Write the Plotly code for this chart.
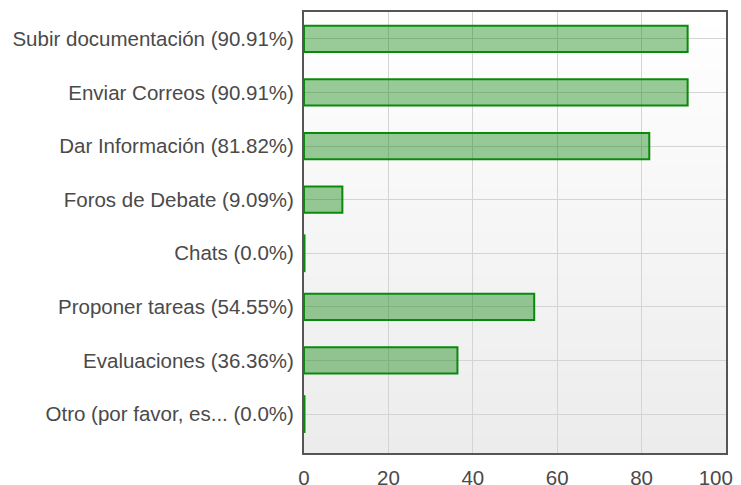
import plotly.graph_objects as go

categories = [
    "Subir documentación",
    "Enviar Correos",
    "Dar Información",
    "Foros de Debate",
    "Chats",
    "Proponer tareas",
    "Evaluaciones",
    "Otro (por favor, es...",
]
values = [90.91, 90.91, 81.82, 9.09, 0.0, 54.55, 36.36, 0.0]
value_labels = ["90.91", "90.91", "81.82", "9.09", "0.0", "54.55", "36.36", "0.0"]
tick_labels = [f"{c} ({v}%)" for c, v in zip(categories, value_labels)]
x_ticks = [0, 20, 40, 60, 80, 100]
x_tick_text = ["0", "20", "40", "60", "80", "100\u2003"]

font_family = "Liberation Sans, Arial, sans-serif"
font_size = 20.5
text_color = "#4a4a4a"
bar_line = "#0a8a0a"

fig = go.Figure()
fig.add_trace(go.Bar(
    y=tick_labels,
    x=values,
    orientation="h",
    marker=dict(color="rgba(0,128,0,0.4)", line=dict(color=bar_line, width=2)),
    hoverinfo="x+y",
))

# zero-valued bars are shown as a thin outline at the axis
zero_y = [lab for lab, v in zip(tick_labels, values) if v == 0]
zero_x = [v for v in values if v == 0]
fig.add_trace(go.Scatter(
    x=zero_x, y=zero_y, mode="markers",
    marker=dict(symbol="line-ns-open", size=27, color=bar_line,
                line=dict(color=bar_line, width=3)),
    cliponaxis=False, hoverinfo="skip",
))

# vertical gradient background (white -> light gray)
n = 60
shapes = []
for i in range(n):
    t = i / (n - 1)
    g = round(255 - t * (255 - 236))
    shapes.append(dict(
        type="rect", xref="x domain", yref="y domain",
        x0=0, x1=1, y0=1 - (i + 1) / n, y1=1 - i / n + 0.002,
        fillcolor=f"rgb({g},{g},{g})", line=dict(width=0), layer="below",
    ))

fig.update_layout(
    width=741, height=477,
    margin=dict(l=296, r=23, t=4, b=32),
    paper_bgcolor="white",
    plot_bgcolor="white",
    bargap=0.51,
    showlegend=False,
    shapes=shapes,
    font=dict(family=font_family, size=font_size, color=text_color),
    xaxis=dict(
        range=[0, 100],
        tickvals=x_ticks,
        ticktext=x_tick_text,
        showgrid=True, gridcolor="#d4d4d4", gridwidth=1,
        zeroline=False,
        showline=True, mirror=True, linecolor="#555555", linewidth=2,
        ticks="", ticklabelstandoff=5, automargin=False,
        ticklabeloverflow="allow",
        tickfont=dict(size=font_size, color=text_color),
    ),
    yaxis=dict(
        autorange="reversed",
        showgrid=True, gridcolor="#d4d4d4", gridwidth=1,
        showline=True, mirror=True, linecolor="#555555", linewidth=2,
        ticks="", ticklabelstandoff=4, automargin=False,
        tickfont=dict(size=font_size, color=text_color),
    ),
)

fig.write_html("out.html")
